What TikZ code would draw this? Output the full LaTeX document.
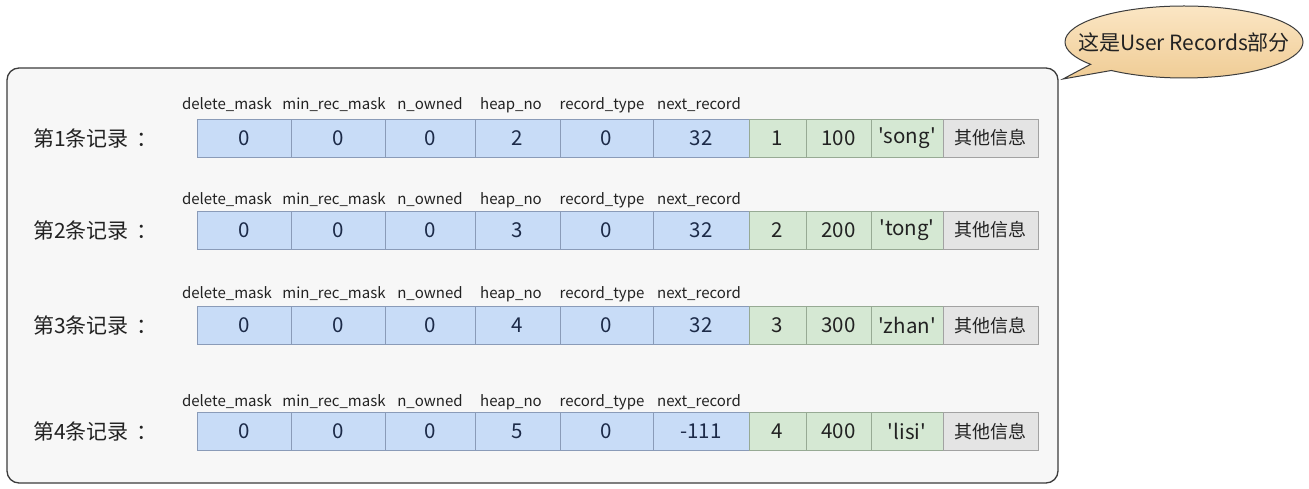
\documentclass[tikz,border=0pt]{standalone}
\usepackage{fontspec}
\setmainfont{Noto Sans CJK SC}
\usetikzlibrary{shapes.callouts}
\definecolor{boxfill}{HTML}{F7F7F7}
\definecolor{boxline}{HTML}{3C3C3C}
\definecolor{bluefill}{HTML}{C8DCF7}
\definecolor{blueline}{HTML}{8A9BB8}
\definecolor{greenfill}{HTML}{D5E8D3}
\definecolor{greenline}{HTML}{97AA94}
\definecolor{grayfill}{HTML}{E4E4E4}
\definecolor{grayline}{HTML}{A2A2A2}
\definecolor{txt}{HTML}{222222}
\definecolor{bluetxt}{HTML}{1C2A48}
\definecolor{notetop}{HTML}{FBE6C4}
\definecolor{notebot}{HTML}{EFCB93}
\tikzset{
  mainbox/.style={draw=boxline, line width=1.3pt, fill=boxfill, rounded corners=12pt, minimum width=1051pt, minimum height=415pt, inner sep=0pt},
  cellbase/.style={minimum height=38pt, inner sep=0pt, line width=0.8pt, font=\fontsize{20.5}{22}\selectfont},
  bluecell/.style={cellbase, draw=blueline, fill=bluefill, text=bluetxt},
  greencell/.style={cellbase, draw=greenline, fill=greenfill, text=txt},
  graycell/.style={cellbase, draw=grayline, fill=grayfill, text=txt, font=\fontsize{18}{20}\selectfont},
  rowlabel/.style={text=txt, font=\fontsize{21}{23}\selectfont, inner sep=0pt, anchor=west},
  fieldlabel/.style={text=txt, font=\fontsize{15}{17}\selectfont, inner sep=0pt},
  note/.style={ellipse callout, draw=boxline, line width=1pt, top color=notetop, bottom color=notebot, minimum width=238pt, minimum height=72pt, inner xsep=-25pt, inner ysep=0pt, text=txt, font=\fontsize{21}{23}\selectfont, callout pointer arc=14}
}
\newcommand\recrow[8]{%
  \node[rowlabel] (l#1) at (33,#2) {第#1条记录\hspace{8pt}：};
  \foreach \a/\b/\t/\s [count=\i] in {197/291/0/bluecell,291/385/0/bluecell,385/475/0/bluecell,475/560/#3/bluecell,560/653/0/bluecell,653/749/#4/bluecell,749/806/#5/greencell,806/871/#6/greencell,871/943/#7/greencell,943/1038/其他信息/graycell}{
    \pgfmathsetmacro\w{\b-\a}
    \pgfmathsetmacro\cx{(\a+\b)/2}
    \node[\s, minimum width=\w pt] (c#1-\i) at (\cx,#2) {\t};
  }
  \foreach \x/\t [count=\i] in {227/delete\_mask,334/min\_rec\_mask,430/n\_owned,511/heap\_no,602/record\_type,699/next\_record}{
    \node[fieldlabel] (h#1-\i) at (\x,#8) {\t};
  }
}
\begin{document}
\begin{tikzpicture}[x=1pt,y=-1pt]
\useasboundingbox (0,0) rectangle (1309,489);
\fill[white] (0,0) rectangle (1309,489);
\node[mainbox] (main) at (532.5,275.5) {};
\node[note, callout absolute pointer={(1063,79)}] (callout) at (1184,42) {这是User Records部分};
\recrow{1}{138}{2}{32}{1}{100}{\textquotesingle song\textquotesingle}{105}
\recrow{2}{230}{3}{32}{2}{200}{\textquotesingle tong\textquotesingle}{200}
\recrow{3}{325.5}{4}{32}{3}{300}{\textquotesingle zhan\textquotesingle}{294}
\recrow{4}{431.5}{5}{-111}{4}{400}{\textquotesingle lisi\textquotesingle}{402}
\end{tikzpicture}
\end{document}
